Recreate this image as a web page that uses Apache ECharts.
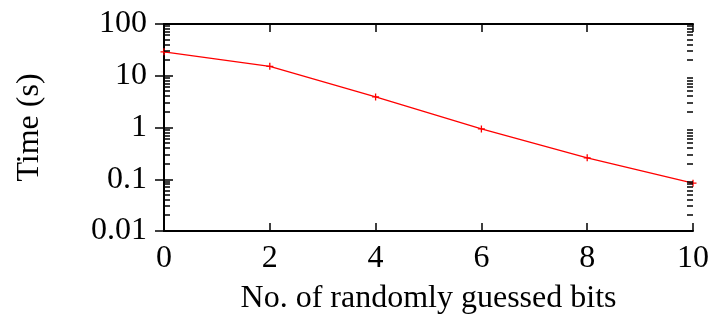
<!DOCTYPE html>
<html><head><meta charset="utf-8">
<script src="https://cdn.jsdelivr.net/npm/echarts@6/dist/echarts.min.js"></script>
<style>html,body{margin:0;padding:0;background:#fff}#c{width:715px;height:320px}</style>
</head><body><div id="c"></div>
<script>
const bits = [0, 2, 4, 6, 8, 10];
const times = [29, 15.2, 3.9, 0.94, 0.26, 0.084];
const yTicks = [0.01, 0.1, 1, 10, 100];
const xTicks = [0, 2, 4, 6, 8, 10];
const minorMults = [2, 3, 4, 5, 6, 7, 8, 9];

const FONT = 'Liberation Serif';
const FS = 32;
const chart = echarts.init(document.getElementById('c'), null, {renderer: 'canvas'});
const axisLine = {show: true, lineStyle: {color: '#000', width: 2}};
chart.setOption({
  animation: false,
  grid: {left: 164, right: 22, top: 24, bottom: 88, containLabel: false},
  xAxis: [{
    type: 'value', min: 0, max: 10, interval: 2,
    axisLine: axisLine, splitLine: {show: false},
    axisTick: {inside: true, length: 8, lineStyle: {color: '#000', width: 1.5}},
    axisLabel: {margin: 12, color: '#000', fontFamily: FONT, fontSize: FS},
    name: 'No. of randomly guessed bits', nameLocation: 'middle', nameGap: 52,
    nameTextStyle: {color: '#000', fontFamily: FONT, fontSize: FS}
  }, {
    type: 'value', min: 0, max: 10, interval: 2, position: 'top',
    axisLine: axisLine, splitLine: {show: false},
    axisTick: {inside: true, length: 8, lineStyle: {color: '#000', width: 1.5}},
    axisLabel: {show: false}
  }],
  yAxis: [{
    type: 'log', logBase: 10, min: 0.01, max: 100,
    axisLine: axisLine, splitLine: {show: false}, minorTick: {show: false},
    axisTick: {inside: true, length: 9, lineStyle: {color: '#000', width: 1.5}},
    axisLabel: {margin: 17, color: '#000', fontFamily: FONT, fontSize: FS,
      formatter: v => String(+v.toPrecision(3))},
    name: 'Time (s)', nameLocation: 'middle', nameGap: 118, nameRotate: 90,
    nameTextStyle: {color: '#000', fontFamily: FONT, fontSize: FS}
  }, {
    type: 'log', logBase: 10, min: 0.01, max: 100, position: 'right',
    axisLine: axisLine, splitLine: {show: false},
    axisTick: {inside: true, length: 9, lineStyle: {color: '#000', width: 1.5}},
    axisLabel: {show: false}
  }],
  series: [{
    type: 'line',
    data: bits.map((b, i) => [b, times[i]]),
    lineStyle: {color: '#ff0000', width: 1.3},
    symbol: 'path://M0,5L10,5M5,0L5,10',
    symbolSize: 7,
    itemStyle: {color: 'none', borderColor: '#ff0000', borderWidth: 1.3},
    showSymbol: true
  }]
});

// minor log ticks at 2..9 x each decade, placed via the axis scale
const els = [];
const left = chart.convertToPixel({gridIndex: 0}, [0, 1])[0];
const right = chart.convertToPixel({gridIndex: 0}, [10, 1])[0];
for (let d = 0; d < yTicks.length - 1; d++) {
  minorMults.forEach(m => {
    const y = Math.round(chart.convertToPixel({gridIndex: 0}, [0, yTicks[d] * m])[1]);
    els.push({type: 'rect', z: 100, shape: {x: left, y: y - 0.75, width: 6, height: 1.5}, style: {fill: '#000'}});
    els.push({type: 'rect', z: 100, shape: {x: right - 6, y: y - 0.75, width: 6, height: 1.5}, style: {fill: '#000'}});
  });
}
chart.setOption({graphic: els});
</script></body></html>
